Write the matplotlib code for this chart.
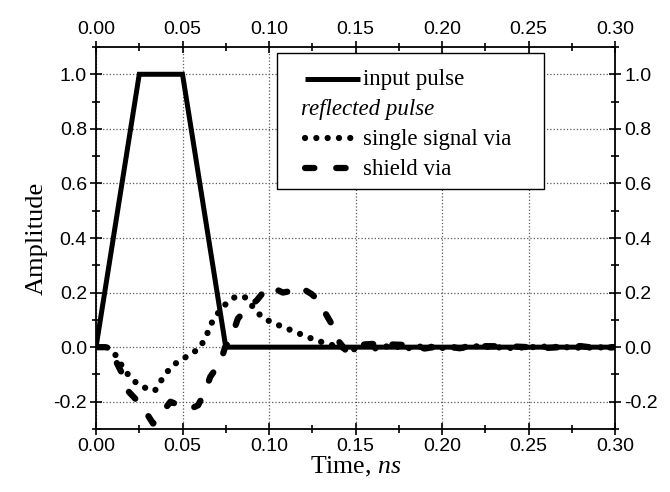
import matplotlib
matplotlib.use("Agg")
import matplotlib.pyplot as plt
import numpy as np
from matplotlib.lines import Line2D
from matplotlib.ticker import MultipleLocator

plt.rcParams["font.family"] = ["Liberation Sans", "DejaVu Sans"]
plt.rcParams["mathtext.fontset"] = "custom"
plt.rcParams["mathtext.rm"] = "Liberation Serif"
plt.rcParams["mathtext.it"] = "Liberation Serif:italic"

# input pulse
t_in = [0.0, 0.025, 0.05, 0.075, 0.30]
a_in = [0.0, 1.0, 1.0, 0.0, 0.0]

# reflected pulse, single signal via (dotted)
t_sig = [0.0, 0.006, 0.009, 0.012, 0.016, 0.021, 0.027, 0.034, 0.038, 0.043,
         0.048, 0.054, 0.060, 0.064, 0.066, 0.070, 0.075, 0.081, 0.0865, 0.091,
         0.096, 0.1025, 0.109, 0.115, 0.122, 0.128, 0.135, 0.140, 0.145, 0.150,
         0.155, 0.160, 0.170, 0.180, 0.190, 0.200, 0.220, 0.240, 0.260, 0.280, 0.300]
a_sig = [0.0, 0.0, -0.01, -0.035, -0.08, -0.12, -0.146, -0.16, -0.119, -0.075,
         -0.05, -0.029, -0.003, 0.044, 0.08, 0.121, 0.158, 0.187, 0.182, 0.145,
         0.109, 0.088, 0.072, 0.056, 0.038, 0.023, 0.011, 0.0, -0.005, -0.008,
         0.006, -0.006, 0.005, -0.004, 0.004, -0.003, 0.003, -0.003, 0.002, -0.002, 0.0]

# reflected pulse, shield via (dashed)
t_sh = [0.0, 0.008, 0.011, 0.0156, 0.019, 0.0254, 0.030, 0.033, 0.037, 0.040,
        0.043, 0.047, 0.051, 0.055, 0.059, 0.063, 0.066, 0.072, 0.0746, 0.078,
        0.082, 0.087, 0.093, 0.0996, 0.104, 0.108, 0.112, 0.117, 0.1245, 0.128,
        0.131, 0.136, 0.139, 0.145, 0.150, 0.155, 0.160, 0.165, 0.170, 0.180,
        0.190, 0.200, 0.210, 0.220, 0.240, 0.260, 0.280, 0.290, 0.300]
a_sh = [0.0, 0.0, -0.045, -0.103, -0.164, -0.207, -0.25, -0.28, -0.253, -0.225,
        -0.2, -0.21, -0.225, -0.225, -0.213, -0.164, -0.109, -0.054, 0.0, 0.03,
        0.105, 0.14, 0.172, 0.224, 0.212, 0.2, 0.205, 0.224, 0.195, 0.175,
        0.142, 0.087, 0.032, -0.017, -0.012, 0.01, 0.012, -0.008, 0.01, 0.008,
        -0.005, 0.005, -0.004, 0.004, 0.003, -0.003, 0.004, -0.004, 0.0]

dot_style = dict(color="black", lw=4.5, linestyle=(0, (0.01, 1.8)), dash_capstyle="round")
dash_style = dict(color="black", lw=4.5, linestyle=(0, (1.5, 3.5)), dash_capstyle="round")
solid_style = dict(color="black", lw=3.6)

fig = plt.figure(figsize=(6.7, 4.92), dpi=100)
ax = fig.add_axes([0.1433, 0.128, 0.7747, 0.7765])

ax.plot(t_sig, a_sig, **dot_style)
ax.plot(t_sh, a_sh, **dash_style)
ax.plot(t_in, a_in, solid_joinstyle="miter", **solid_style)

ax.set_xlim(0, 0.30)
ax.set_ylim(-0.3, 1.1)
ax.xaxis.set_major_locator(MultipleLocator(0.05))
ax.xaxis.set_minor_locator(MultipleLocator(0.025))
ax.yaxis.set_major_locator(MultipleLocator(0.2))
ax.yaxis.set_minor_locator(MultipleLocator(0.1))
ax.xaxis.set_major_formatter(plt.FormatStrFormatter("%.2f"))
ax.yaxis.set_major_formatter(plt.FormatStrFormatter("%.1f"))

ax.grid(True, which="major", color="0.35", linestyle=":", linewidth=0.9)
ax.tick_params(which="both", direction="inout", top=True, right=True,
               labeltop=True, labelright=True, labelsize=14, width=1.2, pad=2)
ax.tick_params(which="major", length=9)
ax.tick_params(which="minor", length=6)
for s in ax.spines.values():
    s.set_linewidth(1.3)

ax.set_xlabel("Time, $\\mathit{ns}$", fontsize=18.5, family="Liberation Serif", labelpad=0)
ax.set_ylabel("Amplitude", fontsize=19, family="Liberation Serif", labelpad=4)

handles = [
    Line2D([], [], solid_capstyle="butt", **solid_style),
    Line2D([], [], color="none"),
    Line2D([], [], **dot_style),
    Line2D([], [], **dash_style),
]
labels = ["input pulse", "reflected pulse", "single signal via", "shield via"]
leg = ax.legend(handles, labels, loc="upper left",
                bbox_to_anchor=(0.349, 0.626, 0.514, 0.358), mode="expand",
                borderaxespad=0, fancybox=False, framealpha=1, edgecolor="black",
                prop={"family": "Liberation Serif", "size": 16.5},
                handlelength=2.4, handletextpad=0.3, labelspacing=0.38,
                borderpad=0.56)
leg.get_frame().set_linewidth(1.0)

# move entries right/down a little so the padding looks like the original box
dx, dy = 11, -3.5
for h in leg.legend_handles:
    h.set_xdata(np.asarray(h.get_xdata()) + dx)
    h.set_ydata(np.asarray(h.get_ydata()) + dy)
for t in leg.get_texts():
    t.set_position((dx, dy))
hdr = leg.get_texts()[1]
hdr.set_fontstyle("italic")
hdr.set_position((dx - 62, dy))

fig.savefig("out.png", dpi=100)
